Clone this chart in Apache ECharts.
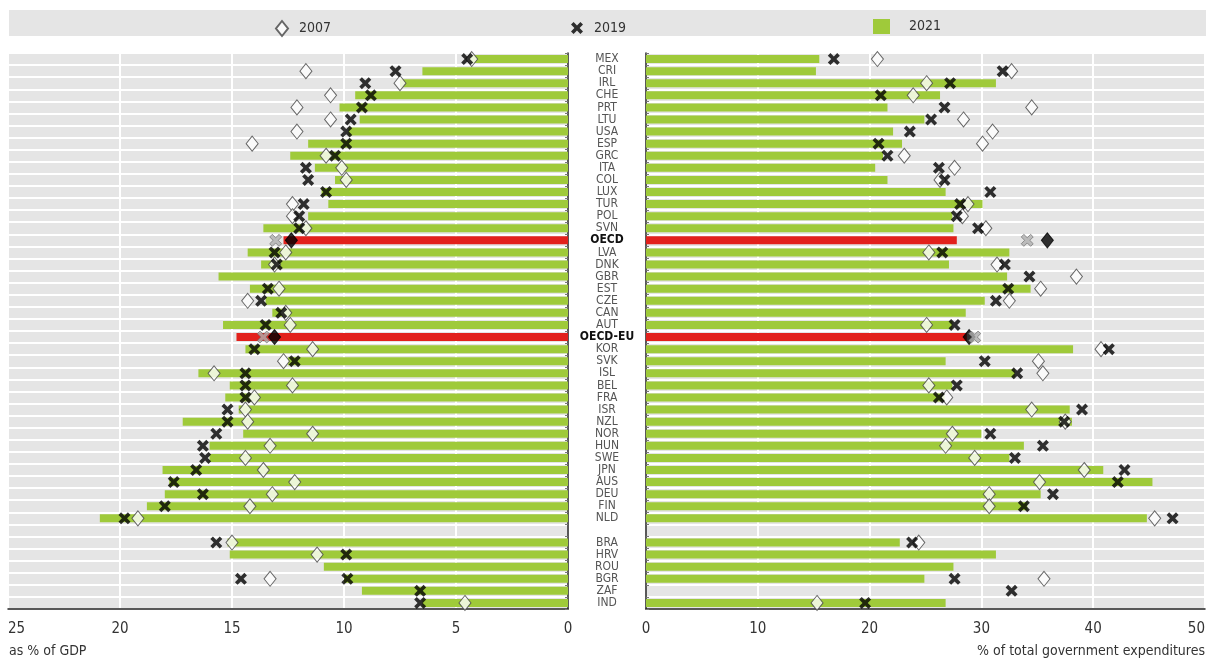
<!DOCTYPE html>
<html><head><meta charset="utf-8">
<script src="https://cdn.jsdelivr.net/npm/echarts@6/dist/echarts.min.js"></script>
<style>html,body{margin:0;padding:0;background:#fff}#c{width:1208px;height:659px}</style>
</head><body><div id="c"></div>
<script>
const categories = ['MEX','CRI','IRL','CHE','PRT','LTU','USA','ESP','GRC','ITA','COL','LUX','TUR','POL','SVN','OECD','LVA','DNK','GBR','EST','CZE','CAN','AUT','OECD-EU','KOR','SVK','ISL','BEL','FRA','ISR','NZL','NOR','HUN','SWE','JPN','AUS','DEU','FIN','NLD','','BRA','HRV','ROU','BGR','ZAF','IND'];
const aggregates = ['OECD','OECD-EU'];
// Left panel: as % of GDP
const gdp2021 = [4.4,6.5,7.5,9.5,10.2,9.3,9.8,11.6,12.4,11.3,10.4,11.0,10.7,11.6,13.6,12.7,14.3,13.7,15.6,14.2,13.5,13.2,15.4,14.8,14.4,12.5,16.5,15.1,15.3,14.7,17.2,14.5,16.0,16.0,18.1,17.8,18.0,18.8,20.9,null,15.2,15.1,10.9,10.0,9.2,6.5];
const gdp2019 = [4.5,7.7,9.05,8.8,9.2,9.7,9.9,9.9,10.4,11.7,11.6,10.8,11.8,12.0,12.0,13.05,13.1,13.0,null,13.4,13.7,12.8,13.5,13.6,14.0,12.2,14.4,14.4,14.4,15.2,15.2,15.7,16.3,16.2,16.6,17.6,16.3,18.0,19.8,null,15.7,9.9,null,14.6,6.6,6.6];
const gdp2019Extra = [null,null,null,null,null,null,null,null,null,null,null,null,null,null,null,null,null,null,null,null,null,null,null,null,null,null,null,null,null,null,null,null,null,null,null,null,null,null,null,null,null,null,null,9.85,null,null];
const gdp2007 = [4.3,11.7,7.5,10.6,12.1,10.6,12.1,14.1,10.8,10.1,9.9,null,12.3,12.3,11.7,12.35,12.6,13.1,null,12.9,14.3,12.6,12.4,13.1,11.4,12.7,15.8,12.3,14.0,14.4,14.3,11.4,13.3,14.4,13.6,12.2,13.2,14.2,19.2,null,15.0,11.2,null,13.3,null,4.6];
// Right panel: % of total government expenditures
const exp2021 = [15.5,15.2,31.3,26.3,21.6,24.9,22.1,22.9,21.2,20.5,21.6,26.8,30.1,27.4,27.5,27.8,32.5,27.1,32.3,34.4,30.3,28.6,27.4,28.7,38.2,26.8,33.0,27.4,26.7,37.9,38.1,30.0,33.8,32.5,40.9,45.3,35.3,34.1,44.8,null,22.7,31.3,27.5,24.9,null,26.8];
const exp2019 = [16.8,31.9,27.2,21.0,26.7,25.5,23.6,20.8,21.6,26.2,26.7,30.8,28.1,27.8,29.7,34.1,26.5,32.1,34.3,32.4,31.3,null,27.6,29.4,41.4,30.3,33.2,27.8,26.2,39.0,37.4,30.8,35.5,33.0,42.8,42.2,36.4,33.8,47.1,null,23.8,null,null,27.6,32.7,19.6];
const exp2007 = [20.7,32.7,25.1,23.9,34.5,28.4,31.0,30.1,23.1,27.6,26.3,null,28.8,28.3,30.4,35.9,25.3,31.4,38.5,35.3,32.5,null,25.1,28.9,40.7,35.1,35.5,25.3,26.9,34.5,37.5,27.4,26.8,29.4,39.2,35.2,30.7,30.7,45.5,null,24.4,null,null,35.6,null,15.3];
const gdpTicks = [0,5,10,15,20,25];
const expTicks = [0,10,20,30,40,50];

const FONT = "'Liberation Sans Narrow','DejaVu Sans Condensed','Arial Narrow',sans-serif";
const GREEN = '#9fca3a', RED = '#e2211c';
const XPATH = 'path://M0,2.6 L2.6,0 L6,3.4 L9.4,0 L12,2.6 L8.6,6 L12,9.4 L9.4,12 L6,8.6 L2.6,12 L0,9.4 L3.4,6 Z';

function isAgg(i){ return aggregates.indexOf(categories[i]) >= 0; }
function barData(arr){ return arr.map((v,i)=> isAgg(i) ? {value:v, itemStyle:{color:RED}} : v); }
function d07(arr){ return arr.map((v,i)=> isAgg(i) ? {value:v, itemStyle:{color:'#000', borderColor:'#000'}} : v); }
function d19(arr){ return arr.map((v,i)=> isAgg(i) ? {value:v, itemStyle:{color:'#b0b0b0', borderColor:'#666', borderWidth:0.8}} : v); }

const chart = echarts.init(document.getElementById('c'));
const grids = [
  {left:8, right:640, top:53, bottom:50, show:true, backgroundColor:'#e5e5e5', borderWidth:0},
  {left:646, right:2, top:53, bottom:50, show:true, backgroundColor:'#e5e5e5', borderWidth:0}
];
function xAx(idx, max, interval, inverse, alignMax){
  return {gridIndex:idx, type:'value', min:0, max:max, interval:interval, inverse:inverse,
    axisLine:{show:true, lineStyle:{color:'#222', width:1.5}}, axisTick:{show:false},
    splitLine:{show:true, lineStyle:{color:'#ffffff', width:2}},
    axisLabel:{fontFamily:FONT, fontSize:15, color:'#333', margin:13, alignMaxLabel:alignMax}};
}
function yAx(idx, pos, showLabel){
  return {gridIndex:idx, type:'category', data:categories, inverse:true, position:pos,
    axisLine:{show:true, onZero:false, lineStyle:{color:'#222', width:1.5}},
    axisTick:{show:true, inside:true, length:3, interval:0, lineStyle:{color:'#777'}},
    splitLine:{show:true, interval:0, lineStyle:{color:'#ffffff', width:2}},
    axisLabel:{show:showLabel, interval:0, fontFamily:FONT, fontSize:12, color:'#555', align:'center', margin:39, lineHeight:12,
      formatter:(v)=> aggregates.indexOf(v)>=0 ? '{b|'+v+'}' : v,
      rich:{b:{fontFamily:FONT, fontSize:12, fontWeight:'bold', color:'#111'}}}};
}
const diamondStyle = {color:'#fff', borderColor:'#444', borderWidth:1};
const xStyle = {color:'#000'};
function bar(name, xi, data){ return {name:name, type:'bar', xAxisIndex:xi, yAxisIndex:xi, data:barData(data), barWidth:8, itemStyle:{color:GREEN}, z:2, silent:true}; }
function sc07(xi, data){ return {name:'2007', type:'scatter', xAxisIndex:xi, yAxisIndex:xi, data:d07(data), symbol:'diamond', symbolSize:[12,15], itemStyle:diamondStyle, z:3}; }
function sc19(xi, data){ return {name:'2019', type:'scatter', xAxisIndex:xi, yAxisIndex:xi, data:d19(data), symbol:XPATH, symbolSize:[12,12], itemStyle:xStyle, z:4}; }

const legendText = {fontFamily:FONT, fontSize:14, color:'#333'};
chart.setOption({
  animation:false,
  graphic:[
    {type:'rect', left:9, top:10, shape:{width:1197, height:26}, style:{fill:'#e5e5e5'}, z:-10},
    {type:'text', left:9, top:644, style:{text:'as % of GDP', fontFamily:FONT, fontSize:14, fill:'#333'}},
    {type:'text', right:3, top:644, style:{text:'% of total government expenditures', fontFamily:FONT, fontSize:14, fill:'#333'}}
  ],
  legend:[
    {data:['2007'], left:270, top:15, itemWidth:12, itemHeight:15, textStyle:Object.assign({padding:[0,0,0,6]}, legendText), selectedMode:false},
    {data:['2019'], left:566, top:16, itemWidth:12, itemHeight:13, textStyle:Object.assign({padding:[0,0,0,6]}, legendText), selectedMode:false},
    {data:[{name:'2021', icon:'rect'}], left:868, top:14, itemWidth:17, itemHeight:15, textStyle:Object.assign({padding:[0,0,0,14]}, legendText), selectedMode:false}
  ],
  grid:grids,
  xAxis:[xAx(0,25,5,true,'left'), xAx(1,50,10,false,'right')],
  yAxis:[yAx(0,'right',true), yAx(1,'left',false)],
  series:[
    bar('2021',0,gdp2021), sc07(0,gdp2007), sc19(0,gdp2019),
    {name:'2019', type:'scatter', xAxisIndex:0, yAxisIndex:0, data:gdp2019Extra, symbol:XPATH, symbolSize:[12,12], itemStyle:xStyle, z:4},
    bar('2021',1,exp2021), sc07(1,exp2007), sc19(1,exp2019)
  ]
});
</script></body></html>
